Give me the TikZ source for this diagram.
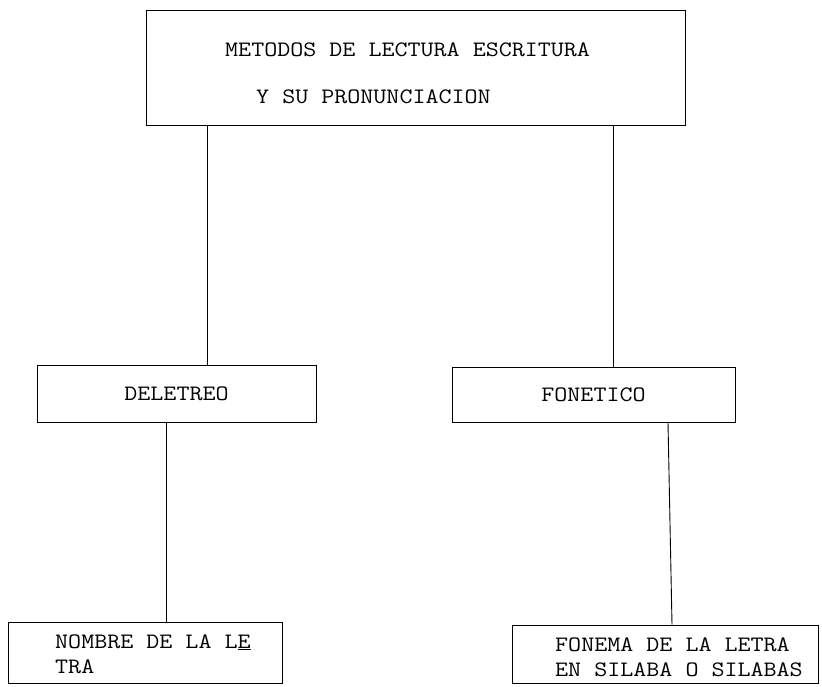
\documentclass[tikz,border=0pt]{standalone}
\usepackage{fontspec}
\newfontfamily\maquina{Latin Modern Mono}[FakeStretch=1.15]
\usetikzlibrary{positioning, calc}

\tikzset{
	caja/.style={draw, line width=0.9pt, rectangle, inner sep=0pt, font=\maquina\fontsize{22}{25}\selectfont},
	texto/.style={inner sep=0pt, font=\maquina\fontsize{22}{25}\selectfont},
	linea/.style={line width=0.9pt}
}

\begin{document}
\begin{tikzpicture}[x=1pt, y=-1pt]
			
			\useasboundingbox (0,0) rectangle (822,686);
			
			% Cajas
			\node[caja, minimum width=539pt, minimum height=115pt] (metodos) at (415.5,67.5) {};
			\node[texto, anchor=base west] (metodosA) at (225,56) {METODOS DE LECTURA ESCRITURA};
			\node[texto, anchor=base west] (metodosB) at (256,103) {Y SU PRONUNCIACION};
			
			\node[caja, minimum width=279pt, minimum height=57pt] (deletreo) at (176.5,393.5) {DELETREO};
			\node[caja, minimum width=283pt, minimum height=55pt] (fonetico) at (593.5,394.5) {FONETICO};
			
			\node[caja, minimum width=274pt, minimum height=61pt] (nombre) at (145,652.5) {};
			\node[texto, anchor=base west] (nombreA) at (55,648) {NOMBRE DE LA L\underline{E}};
			\node[texto, anchor=base west] (nombreB) at (55,673) {TRA};
			
			\node[caja, minimum width=306pt, minimum height=58pt] (fonema) at (665,654) {};
			\node[texto, anchor=base west] (fonemaA) at (555,651) {FONEMA DE LA LETRA};
			\node[texto, anchor=base west] (fonemaB) at (555,676) {EN SILABA O SILABAS};
			
			% Lineas
			\draw[linea] ([xshift=-208.5pt]metodos.south) -- ([xshift=30.5pt]deletreo.north);
			\draw[linea] ([xshift=197.5pt]metodos.south) -- ([xshift=19.5pt]fonetico.north);
			\draw[linea] ([xshift=-10.5pt]deletreo.south) -- ([xshift=21pt]nombre.north);
			\draw[linea] ([xshift=74.5pt]fonetico.south) -- ([xshift=7pt]fonema.north);
			
		\end{tikzpicture}
\end{document}
